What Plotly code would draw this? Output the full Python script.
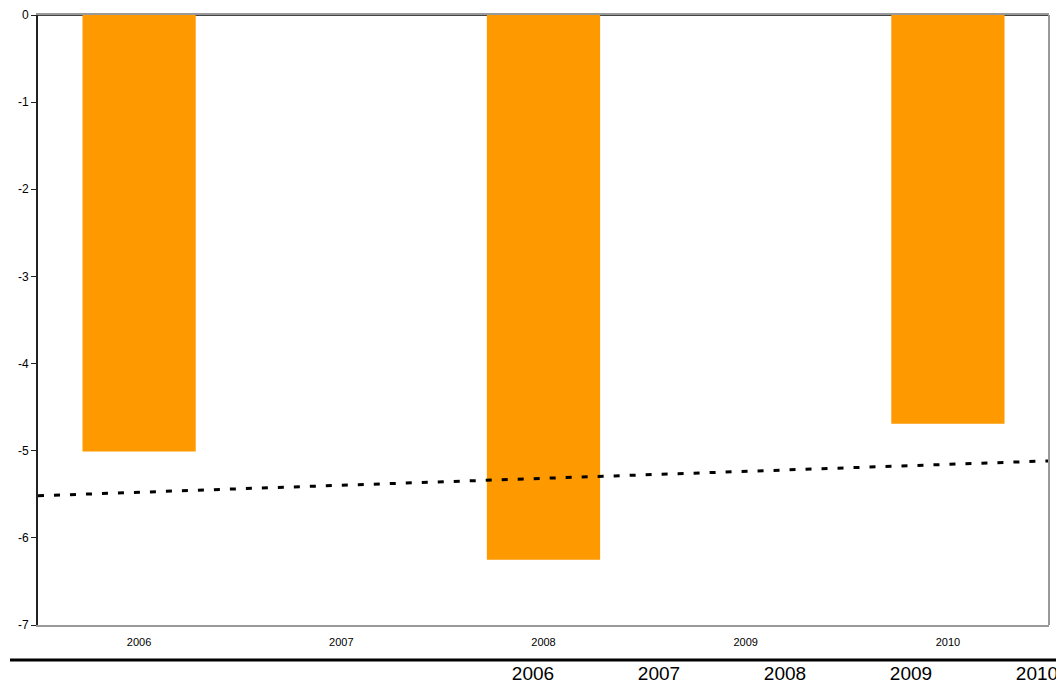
import numpy as np
import plotly.graph_objects as go

years = [2006, 2007, 2008, 2009, 2010]
values = [-5.01, None, -6.25, None, -4.69]
year_labels = ["2006", "2007", "2008", "2009", "2010"]
y_ticks = [0, -1, -2, -3, -4, -5, -6, -7]
y_tick_text = ["0", "-1", "-2", "-3", "-4", "-5", "-6", "-7"]

# linear trend fitted to the available points
fx = [x for x, v in zip(years, values) if v is not None]
fy = [v for v in values if v is not None]
slope, intercept = np.polyfit(fx, fy, 1)
tx = [years[0] - 0.5, years[-1] + 0.5]
ty = [slope * x + intercept for x in tx]

fig = go.Figure()
fig.add_trace(go.Bar(x=years, y=values, width=0.56,
                     marker=dict(color="#FF9900", line=dict(width=0)),
                     showlegend=False))
fig.add_trace(go.Scatter(x=tx, y=ty, mode="lines",
                         line=dict(color="black", width=3, dash="6px,10px"),
                         showlegend=False, cliponaxis=False))
# secondary axis carrier (invisible)
fig.add_trace(go.Scatter(x=years, y=[None] * 5, xaxis="x2", yaxis="y",
                         showlegend=False, hoverinfo="skip"))

# page has an 8px body margin: figure is 1056x675 placed at (8,8)
W, H = 1056, 675
ml, mr, mt, mb = 30, 15, 7, 23
plot_w = W - ml - mr
plot_h = H - mt - mb
ybottom = 35 / plot_h

fig.update_layout(
    width=W, height=H,
    margin=dict(l=ml, r=mr, t=mt, b=mb, autoexpand=False),
    plot_bgcolor="white", paper_bgcolor="white",
    font=dict(family="Arial, Liberation Sans, sans-serif", color="black"),
    xaxis=dict(range=[2005.5, 2010.5], tickvals=years, ticktext=year_labels,
               showgrid=False, zeroline=False, showline=True,
               linecolor="#999", linewidth=2, mirror=True, ticks="",
               tickfont=dict(size=11, color="black"), anchor="y",
               domain=[0, 1], automargin=False, ticklabelstandoff=6),
    yaxis=dict(range=[-7, 0], tickvals=y_ticks, ticktext=y_tick_text,
               domain=[ybottom, 1],
               showgrid=False, zeroline=True, zerolinecolor="#444",
               zerolinewidth=2, showline=True, linecolor="#222", linewidth=2,
               ticks="outside", ticklen=5, tickcolor="#222",
               tickfont=dict(size=12, color="black"), automargin=False),
    xaxis2=dict(overlaying="x", anchor="free", position=0,
                range=[2006 - 495 / 126, 2006 + 516 / 126],
                tickvals=years, ticktext=year_labels, showgrid=False,
                zeroline=False, showline=False, ticks="",
                tickfont=dict(size=19, color="black"), side="bottom",
                automargin=False),
    shapes=[
        dict(type="line", xref="paper", yref="paper",
             x0=-28 / plot_w, x1=(W - ml + 8) / plot_w, y0=0, y1=0,
             line=dict(color="black", width=3)),
        dict(type="line", xref="paper", yref="paper",
             x0=1, x1=1, y0=ybottom, y1=1,
             line=dict(color="#999", width=2)),
    ],
)

fig.write_html("out.html")
